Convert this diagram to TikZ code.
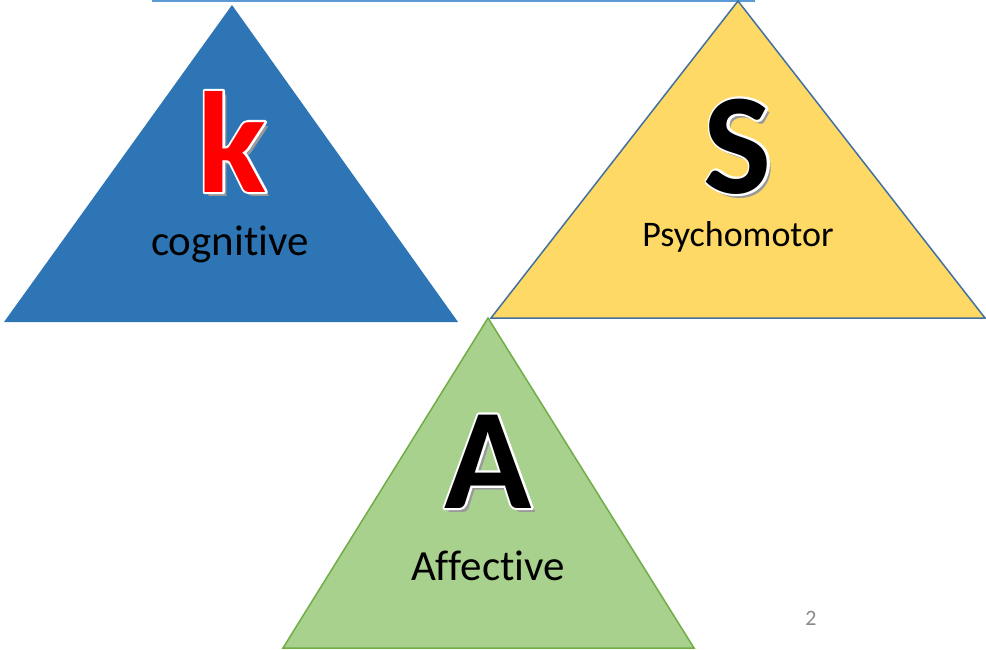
\documentclass[tikz,border=0pt]{standalone}
\usepackage{fontspec}
\setmainfont{Carlito}[Ligatures=NoCommon]
\usetikzlibrary{positioning}

\definecolor{kblue}{RGB}{46,117,182}
\definecolor{syellow}{RGB}{255,217,102}
\definecolor{sedge}{RGB}{65,113,156}
\definecolor{agreen}{RGB}{169,209,142}
\definecolor{aedge}{RGB}{112,173,71}
\definecolor{topline}{RGB}{91,155,213}
\definecolor{pagegray}{RGB}{137,137,137}

\tikzset{
  tri/.style = {line width=1.5pt, line join=miter},
  bigtext/.style = {anchor=base, inner sep=0pt, font=\fontsize{144}{150}\bfseries},
  label/.style = {anchor=base, inner sep=0pt, font=\fontsize{43}{48}\selectfont},
}

% stroked glyph outlines for the white rim
\newcommand{\rimon}{\special{pdf:literal 1 Tr 4.4 w 1 j}}
\newcommand{\rimoff}{\special{pdf:literal 0 Tr}}

% letter with white rim and grey shadow: name, place, colour, letter
\newcommand{\rimletter}[4]{%
  \node[bigtext, text=black!40] (#1shadow) at ([xshift=4pt,yshift=-4pt]#2) {#4};
  \node[bigtext, text=white] (#1rim) at (#2) {\rimon#4\rimoff};
  \node[bigtext, text=#3] (#1) at (#2) {#4};
}

\begin{document}
\begin{tikzpicture}[x=1pt, y=-1pt]
  \useasboundingbox (0,0) rectangle (986,649);

  \draw[topline, line width=1.5pt] (152,0.75) -- (755,0.75);

  % triangles
  \fill[kblue] (232,5) -- (4,322) -- (458,322) -- cycle;
  \filldraw[tri, fill=syellow, draw=sedge] (738,1) -- (491,318) -- (985,318) -- cycle;
  \filldraw[tri, fill=agreen, draw=aedge] (488,318) -- (283,648) -- (694,648) -- cycle;

  \coordinate (kpos) at (232,192);
  \coordinate (spos) at (738,193);
  \coordinate (apos) at (488,508);

  \rimletter{k}{kpos}{red}{k}
  \rimletter{S}{spos}{black}{S}
  \rimletter{A}{apos}{black}{A}

  \node[label] (cog) at (230,255) {cognitive};
  \node[label, font=\fontsize{36}{40}\selectfont] (psy) at (738,246) {Psychomotor};
  \node[label] (aff) at (488,580) {Affective};

  \node[anchor=base, inner sep=0pt, text=pagegray, font=\fontsize{22}{24}\selectfont] (page) at (811,625) {2};
\end{tikzpicture}
\end{document}
